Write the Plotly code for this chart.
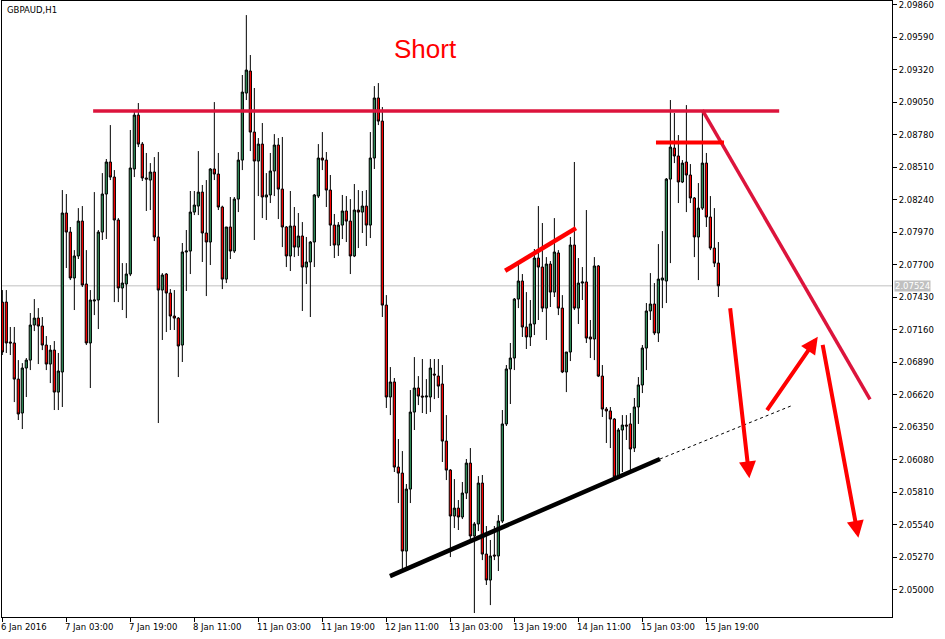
import plotly.graph_objects as go

# ---------------- data (GBPAUD, H1 bars, 6 Jan 11:00 -> 15 Jan 22:00) ----------------
opens = [
    2.07389, 2.07389, 2.07057, 2.07049, 2.06749, 2.06467, 2.06841, 2.06907, 2.07198, 2.07256,
    2.07190, 2.07032, 2.06874, 2.06990, 2.06641, 2.06808, 2.08129, 2.07971, 2.07589, 2.07772,
    2.08062, 2.07539, 2.07049, 2.07398, 2.07406, 2.07971, 2.08287, 2.08553, 2.08428, 2.08071,
    2.07506, 2.07539, 2.07622, 2.08495, 2.08943, 2.08702, 2.08420, 2.08403, 2.08470, 2.07930,
    2.07489, 2.07622, 2.07464, 2.07273, 2.07256, 2.07032, 2.07805, 2.07813, 2.08137, 2.08187,
    2.08303, 2.07963, 2.07888, 2.08495, 2.08453, 2.08179, 2.07580, 2.08013, 2.07813, 2.08245,
    2.08569, 2.09126, 2.09309, 2.08802, 2.08561, 2.08702, 2.08262, 2.08279, 2.08478, 2.08694,
    2.08328, 2.08013, 2.07772, 2.08021, 2.07846, 2.07938, 2.07680, 2.07722, 2.07888, 2.08270,
    2.08586, 2.08569, 2.08320, 2.08029, 2.07863, 2.08029, 2.08146, 2.08062, 2.07772, 2.08154,
    2.08137, 2.08187, 2.08029, 2.08586, 2.09085, 2.08893, 2.07364, 2.06600, 2.06725, 2.06018,
    2.05968, 2.05320, 2.05835, 2.06475, 2.06675, 2.06608, 2.06600, 2.06600, 2.06791, 2.06774,
    2.06708, 2.06234, 2.05993, 2.05611, 2.05677, 2.05603, 2.05802, 2.06051, 2.05445, 2.05545,
    2.05885, 2.05295, 2.05079, 2.05287, 2.05279, 2.05569, 2.06376, 2.06833, 2.06924, 2.07414,
    2.07564, 2.07182, 2.07099, 2.07207, 2.07755, 2.07680, 2.07339, 2.07705, 2.07472, 2.07797,
    2.07339, 2.06808, 2.06974, 2.07863, 2.07339, 2.07547, 2.07556, 2.07099, 2.07082, 2.07689,
    2.06774, 2.06500, 2.06484, 2.06417, 2.05935, 2.06326, 2.06367, 2.06376, 2.06176, 2.06517,
    2.06700, 2.07007, 2.07315, 2.07373, 2.07132, 2.07572, 2.07564, 2.08411, 2.08669, 2.08603,
    2.08387, 2.08553, 2.08445, 2.08254, 2.07930, 2.08170, 2.08544, 2.08096, 2.07838, 2.07713,
]
highs = [
    2.07489, 2.07489, 2.07182, 2.07182, 2.06907, 2.06882, 2.06924, 2.07298, 2.07414, 2.07339,
    2.07265, 2.07107, 2.07032, 2.07065, 2.06966, 2.08320, 2.08287, 2.08013, 2.07821, 2.08170,
    2.08187, 2.07821, 2.07489, 2.08303, 2.07988, 2.08461, 2.08578, 2.08860, 2.08486, 2.08087,
    2.07713, 2.07713, 2.08819, 2.08977, 2.09043, 2.08719, 2.08628, 2.08544, 2.08594, 2.08636,
    2.07630, 2.07630, 2.07497, 2.07489, 2.07264, 2.07880, 2.07988, 2.08312, 2.08312, 2.08644,
    2.08362, 2.08403, 2.08503, 2.09051, 2.08628, 2.08190, 2.08013, 2.08262, 2.08262, 2.08636,
    2.09276, 2.09774, 2.09442, 2.09168, 2.08752, 2.08877, 2.08461, 2.08628, 2.08785, 2.08752,
    2.08761, 2.08021, 2.08312, 2.08179, 2.08129, 2.08054, 2.07930, 2.07896, 2.08287, 2.08702,
    2.08802, 2.08636, 2.08445, 2.08121, 2.08054, 2.08279, 2.08270, 2.08245, 2.08370, 2.08320,
    2.08312, 2.08320, 2.08802, 2.09184, 2.09209, 2.09010, 2.07447, 2.06849, 2.06758, 2.06251,
    2.06151, 2.05877, 2.06658, 2.06932, 2.06774, 2.06916, 2.06749, 2.06916, 2.06916, 2.06916,
    2.06866, 2.06450, 2.06001, 2.05918, 2.05744, 2.05894, 2.06085, 2.06176, 2.05561, 2.05943,
    2.05952, 2.05528, 2.05412, 2.05528, 2.05619, 2.06492, 2.06866, 2.07049, 2.07423, 2.07697,
    2.07622, 2.07472, 2.07406, 2.07830, 2.08187, 2.08046, 2.07763, 2.07730, 2.08087, 2.07821,
    2.07447, 2.06974, 2.07930, 2.08553, 2.07755, 2.07680, 2.08154, 2.07240, 2.07763, 2.07697,
    2.06866, 2.06517, 2.06517, 2.06425, 2.06342, 2.06450, 2.06450, 2.06467, 2.06592, 2.06766,
    2.07032, 2.07381, 2.07630, 2.07547, 2.07871, 2.07979, 2.08420, 2.09068, 2.08960, 2.08777,
    2.08569, 2.09026, 2.08536, 2.08262, 2.08378, 2.08985, 2.08628, 2.08270, 2.08170, 2.07888,
]
lows = [
    2.06949, 2.06966, 2.06949, 2.06558, 2.06409, 2.06334, 2.06600, 2.06824, 2.07148, 2.06874,
    2.06990, 2.06824, 2.06716, 2.06492, 2.06492, 2.06517, 2.07672, 2.07572, 2.07323, 2.07747,
    2.07514, 2.07032, 2.06675, 2.07281, 2.07165, 2.07905, 2.07913, 2.08403, 2.07389, 2.07389,
    2.07323, 2.07256, 2.07605, 2.08428, 2.08677, 2.08395, 2.08146, 2.08154, 2.07896, 2.06384,
    2.07074, 2.07140, 2.07157, 2.07157, 2.06766, 2.06891, 2.07481, 2.07622, 2.08112, 2.08112,
    2.07722, 2.07439, 2.07697, 2.08403, 2.08154, 2.07497, 2.07547, 2.07747, 2.07797, 2.08137,
    2.08486, 2.09068, 2.08644, 2.07905, 2.08270, 2.08087, 2.08071, 2.08212, 2.08270, 2.08079,
    2.07846, 2.07680, 2.07647, 2.07763, 2.07772, 2.07315, 2.07539, 2.07265, 2.07680, 2.08254,
    2.08486, 2.08179, 2.07855, 2.07755, 2.07772, 2.07913, 2.07888, 2.07622, 2.07763, 2.07838,
    2.07963, 2.07855, 2.07921, 2.08495, 2.08860, 2.07265, 2.06509, 2.06450, 2.05977, 2.05719,
    2.05162, 2.05171, 2.05719, 2.06326, 2.06533, 2.06467, 2.06459, 2.06475, 2.06583, 2.06592,
    2.06060, 2.05910, 2.05270, 2.05511, 2.05495, 2.05586, 2.05752, 2.05412, 2.04805, 2.05486,
    2.05245, 2.05038, 2.04871, 2.05245, 2.05154, 2.05553, 2.06359, 2.06542, 2.06824, 2.07339,
    2.07099, 2.06999, 2.07024, 2.07115, 2.07240, 2.07306, 2.07074, 2.07348, 2.07431, 2.07281,
    2.06799, 2.06641, 2.06899, 2.07323, 2.07207, 2.07406, 2.07049, 2.06924, 2.06907, 2.06766,
    2.06434, 2.06218, 2.06176, 2.05927, 2.05927, 2.05977, 2.06243, 2.05993, 2.06143, 2.06376,
    2.06633, 2.06824, 2.07240, 2.07115, 2.07057, 2.07339, 2.07381, 2.07713, 2.08544, 2.08212,
    2.08378, 2.08137, 2.08212, 2.07763, 2.07572, 2.08154, 2.08013, 2.07821, 2.07680, 2.07431,
]
closes = [
    2.06974, 2.07049, 2.07049, 2.06749, 2.06459, 2.06841, 2.06907, 2.07198, 2.07256, 2.07190,
    2.07032, 2.06874, 2.06990, 2.06641, 2.06816, 2.08129, 2.07971, 2.07589, 2.07772, 2.08062,
    2.07531, 2.07049, 2.07406, 2.07406, 2.07971, 2.08287, 2.08553, 2.08428, 2.08071, 2.07506,
    2.07547, 2.07622, 2.08503, 2.08943, 2.08702, 2.08420, 2.08411, 2.08470, 2.07930, 2.07489,
    2.07614, 2.07464, 2.07273, 2.07256, 2.07024, 2.07805, 2.07813, 2.08137, 2.08195, 2.08303,
    2.07963, 2.07888, 2.08495, 2.08453, 2.08179, 2.07580, 2.08013, 2.07813, 2.08245, 2.08569,
    2.09134, 2.09317, 2.08802, 2.08561, 2.08702, 2.08262, 2.08279, 2.08478, 2.08694, 2.08328,
    2.08013, 2.07772, 2.08021, 2.07846, 2.07938, 2.07680, 2.07722, 2.07888, 2.08279, 2.08586,
    2.08569, 2.08320, 2.08029, 2.07863, 2.08029, 2.08146, 2.08062, 2.07772, 2.08154, 2.08137,
    2.08187, 2.08029, 2.08586, 2.09085, 2.08893, 2.07364, 2.06600, 2.06725, 2.06018, 2.05968,
    2.05320, 2.05835, 2.06475, 2.06675, 2.06608, 2.06600, 2.06608, 2.06841, 2.06783, 2.06691,
    2.06234, 2.05993, 2.05611, 2.05677, 2.05603, 2.05802, 2.06051, 2.05445, 2.05545, 2.05885,
    2.05295, 2.05079, 2.05279, 2.05279, 2.05569, 2.06376, 2.06833, 2.06924, 2.07414, 2.07564,
    2.07182, 2.07099, 2.07207, 2.07755, 2.07680, 2.07339, 2.07705, 2.07472, 2.07805, 2.07339,
    2.06808, 2.06974, 2.07863, 2.07339, 2.07547, 2.07556, 2.07090, 2.07082, 2.07689, 2.06774,
    2.06500, 2.06484, 2.06417, 2.05935, 2.06326, 2.06367, 2.06359, 2.06168, 2.06517, 2.06700,
    2.07007, 2.07315, 2.07373, 2.07132, 2.07580, 2.07589, 2.08411, 2.08677, 2.08603, 2.08387,
    2.08544, 2.08445, 2.08254, 2.07930, 2.08170, 2.08544, 2.08096, 2.07838, 2.07713, 2.07524,
]
bar_index = list(range(len(opens)))

# time axis labels (bar index of each label)
time_tick_pos = [0, 16, 32, 48, 64, 80, 96, 112, 128, 144, 160, 176]
time_tick_labels = ["6 Jan 2016", "7 Jan 03:00", "7 Jan 19:00", "8 Jan 11:00",
                    "11 Jan 03:00", "11 Jan 19:00", "12 Jan 11:00", "13 Jan 03:00",
                    "13 Jan 19:00", "14 Jan 11:00", "15 Jan 03:00", "15 Jan 19:00"]

# price axis labels
price_ticks = [2.05000, 2.05270, 2.05540, 2.05810, 2.06080, 2.06350, 2.06620, 2.06890,
               2.07160, 2.07430, 2.07700, 2.07970, 2.08240, 2.08510, 2.08780, 2.09050,
               2.09320, 2.09590, 2.09860]
current_price = 2.07524

# hand-drawn analysis objects (bar index, price)
resistance_line = [(22.7, 2.08977), (194.2, 2.08977)]
falling_line = [(175.0, 2.08985), (216.9, 2.06581)]
top_line = [(163.4, 2.08716), (180.4, 2.08716)]
rising_red_line = [(125.7, 2.07649), (143.4, 2.08004)]
support_line = [(96.9, 2.05112), (164.4, 2.06085)]
support_extension = [(164.4, 2.06085), (197.3, 2.06528)]
arrows = [  # (tail, tip)
    ((181.9, 2.07350), (186.75, 2.05924)),
    ((190.9, 2.06478), (203.85, 2.07101)),
    ((205.0, 2.07046), (214.0, 2.05431)),
]
title_pos = (105.9, 2.09492)

FONT = "DejaVu Sans"

fig = go.Figure()
fig.add_trace(go.Candlestick(
    x=bar_index, open=opens, high=highs, low=lows, close=closes,
    increasing=dict(fillcolor="#2E8B57", line=dict(color="black", width=1)),
    decreasing=dict(fillcolor="#FF0000", line=dict(color="black", width=1)),
    whiskerwidth=0, hoverinfo="skip", showlegend=False,
))

shapes = []
shapes.append(dict(type="line", xref="paper", x0=0, x1=1, yref="y",
                   y0=current_price, y1=current_price,
                   line=dict(color="#C0C0C0", width=1), layer="below"))


def seg(pts, color, width, dash="solid"):
    (x0, y0), (x1, y1) = pts
    return dict(type="line", xref="x", yref="y", x0=x0, y0=y0, x1=x1, y1=y1,
                line=dict(color=color, width=width, dash=dash), layer="above")


shapes.append(seg(resistance_line, "#DC143C", 3.5))
shapes.append(seg(falling_line, "#DC143C", 3.5))
shapes.append(seg(top_line, "#FF0000", 4))
shapes.append(seg(rising_red_line, "#FF0000", 4.5))
shapes.append(seg(support_line, "black", 4.5))
shapes.append(seg(support_extension, "black", 1, "3px,3px"))

annotations = []
for (tx, ty), (hx, hy) in arrows:
    annotations.append(dict(x=hx, y=hy, ax=tx, ay=ty, xref="x", yref="y",
                            axref="x", ayref="y", text="", showarrow=True,
                            arrowcolor="#FF0000", arrowwidth=4, arrowhead=2,
                            arrowsize=0.85))
annotations.append(dict(x=title_pos[0], y=title_pos[1], xref="x", yref="y",
                        text="Short", showarrow=False,
                        font=dict(family="Liberation Sans, Arial", size=26, color="#FF0000")))
annotations.append(dict(x=0, y=1, xref="paper", yref="paper", xanchor="left",
                        yanchor="top", xshift=3, yshift=-2, text="GBPAUD,H1",
                        showarrow=False, font=dict(family=FONT, size=8.5, color="black")))
annotations.append(dict(x=1, y=current_price, xref="paper", yref="y", xanchor="left",
                        yanchor="middle", xshift=2, text="2.07524", showarrow=False,
                        bgcolor="#C0C0C0", borderpad=0,
                        font=dict(family=FONT, size=8.5, color="white")))
for pos, lab in zip(time_tick_pos, time_tick_labels):
    annotations.append(dict(x=pos, y=0, xref="x", yref="paper", xanchor="left",
                            yanchor="top", xshift=-3, yshift=-3, text=lab,
                            showarrow=False, font=dict(family=FONT, size=8.5, color="black")))

fig.update_layout(
    width=945, height=639,
    margin=dict(l=2, r=53, t=1, b=22),
    paper_bgcolor="white", plot_bgcolor="white",
    showlegend=False, hovermode=False, boxgap=0.2,
    shapes=shapes, annotations=annotations,
    xaxis=dict(range=[-0.08, 222.4], showgrid=False, zeroline=False,
               rangeslider=dict(visible=False), tickvals=time_tick_pos,
               ticks="outside", ticklen=4, tickcolor="black", showticklabels=False,
               showline=True, linecolor="black", linewidth=1, mirror=True),
    yaxis=dict(side="right", range=[2.04772, 2.09891], showgrid=False, zeroline=False,
               tickvals=price_ticks, ticktext=["%.5f" % v for v in price_ticks],
               ticks="outside", ticklen=4, tickcolor="black", ticklabeloverflow="allow",
               tickfont=dict(family=FONT, size=8.5, color="black"),
               showline=True, linecolor="black", linewidth=1, mirror=True),
)

fig.write_html("out.html", config={"displayModeBar": False},
               post_script="document.body.style.margin='0px';document.body.style.overflow='hidden';")
